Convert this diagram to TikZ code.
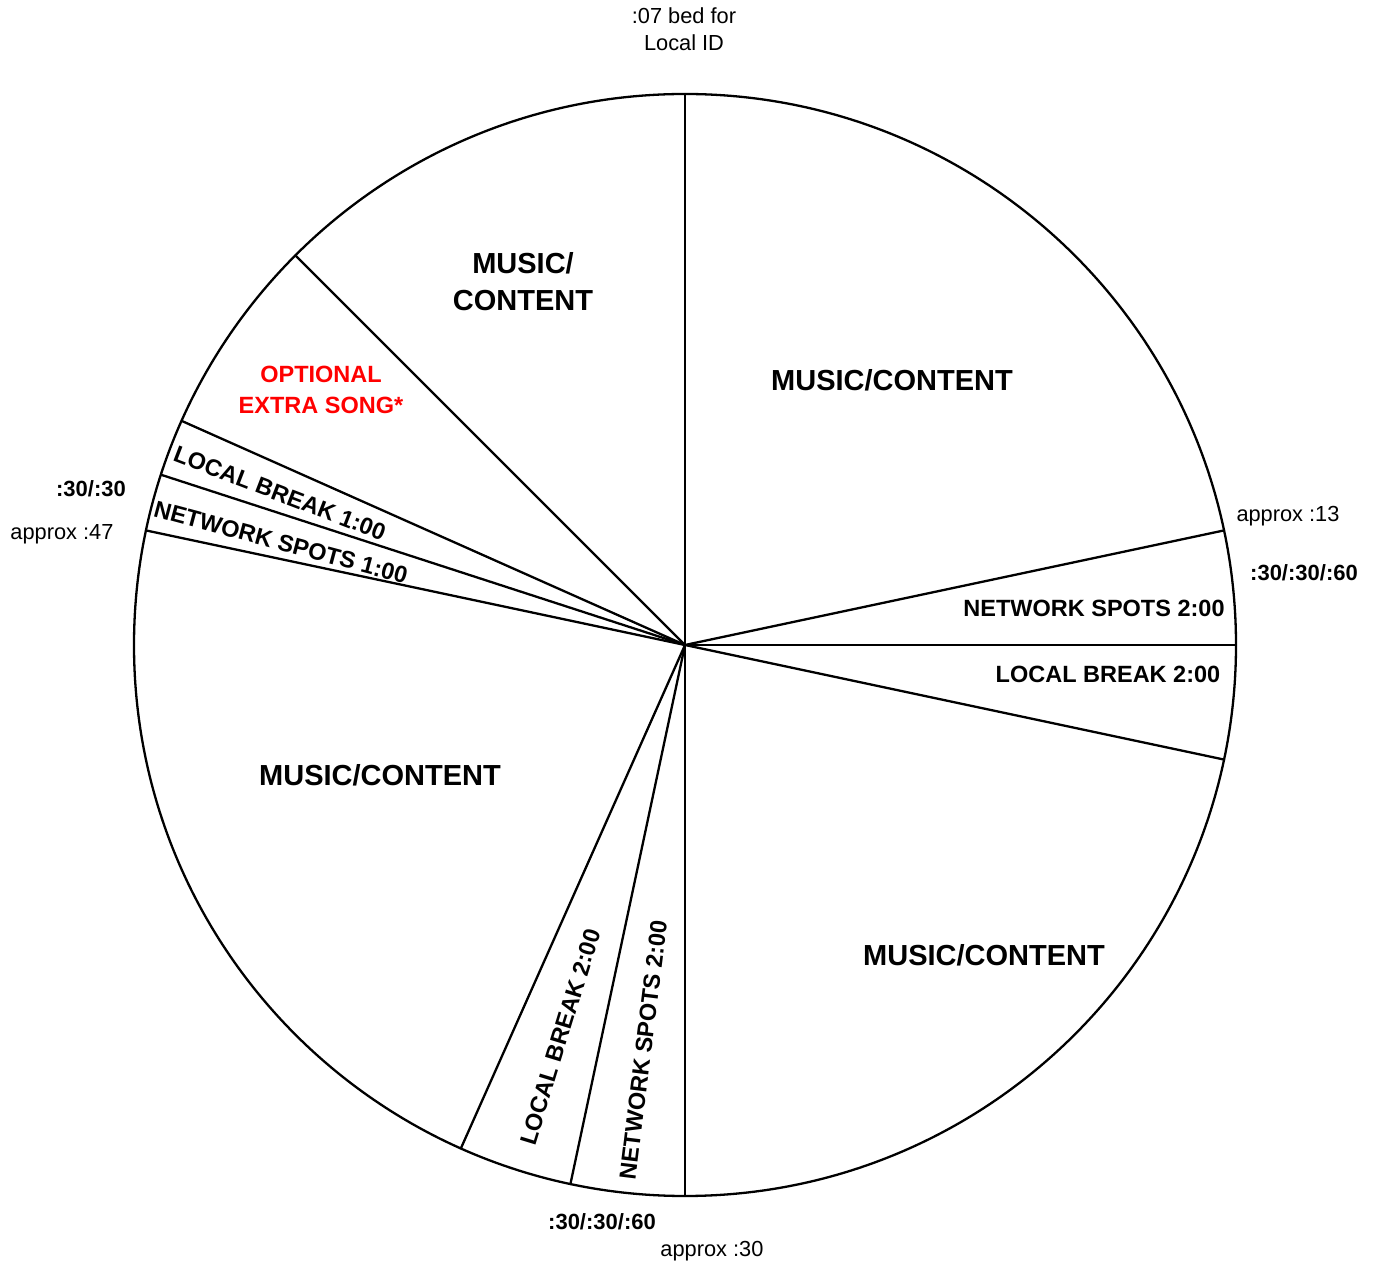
\documentclass[tikz,border=0pt]{standalone}
\usepackage{fontspec}
\setmainfont{Liberation Sans}
\usetikzlibrary{calc}
\begin{document}
\begin{tikzpicture}[x=1pt,y=1pt,
  seg/.style={line width=2.3pt,line cap=round},
  big/.style={font=\bfseries\fontsize{29}{37}\selectfont,inner sep=0pt,align=center},
  bigone/.style={big,text height=20.8pt,text depth=0pt},
  mid/.style={font=\bfseries\fontsize{23.5}{31.5}\selectfont,inner sep=0pt,align=center},
  midone/.style={mid,text height=16.8pt,text depth=0pt},
  small/.style={font=\fontsize{21.8}{27}\selectfont,inner sep=0pt,align=center},
  smallone/.style={small,text height=15.6pt,text depth=0pt},
  smallb/.style={font=\bfseries\fontsize{22}{27}\selectfont,inner sep=0pt,align=center,text height=15.75pt,text depth=0pt}]
\useasboundingbox (0,0) rectangle (1374,1262);
\coordinate (C) at (685,617);
\def\R{551}
\foreach \n/\a in {a/90,b/135,c/156,d/162,e/168,f/12,g/0,h/-12,i/-90,j/-102,k/-114}
  \coordinate (\n) at ($(C)+(\a:\R)$);
\draw[seg] (C) circle (\R);
\foreach \n in {a,b,c,d,e,f,g,h,i,j,k}
  \draw[seg] (C) -- (\n);
% segment labels
\node[bigone] (mc1) at (892,882) {MUSIC/CONTENT};
\node[big] (mc2) at (523,980) {MUSIC/\\CONTENT};
\node[mid,text=red] (oes) at (321,872) {OPTIONAL\\EXTRA SONG*};
\node[midone,rotate=-21] (lb1) at (280,769) {LOCAL BREAK 1:00};
\node[midone,rotate=-15] (ns1) at (281,720) {NETWORK SPOTS 1:00};
\node[bigone] (mc3) at (380,487) {MUSIC/CONTENT};
\node[midone,rotate=73] (lb2v) at (560,225) {LOCAL BREAK 2:00};
\node[midone,rotate=83] (ns2v) at (643,212) {NETWORK SPOTS 2:00};
\node[bigone] (mc4) at (984,307) {MUSIC/CONTENT};
\node[midone] (ns2h) at (1094,654) {NETWORK SPOTS 2:00};
\node[midone] (lb2h) at (1108,588) {LOCAL BREAK 2:00};
% outer labels
\node[small] (bed) at (684,1232.5) {:07 bed for\\Local ID};
\node[smallone] (ap13) at (1288,748) {approx :13};
\node[smallb] (t1) at (1304,689) {:30/:30/:60};
\node[smallb] (t2) at (91,773) {:30/:30};
\node[smallone] (ap47) at (62,730) {approx :47};
\node[smallb] (t3) at (602,40) {:30/:30/:60};
\node[smallone] (ap30) at (712,13) {approx :30};
\end{tikzpicture}
\end{document}
